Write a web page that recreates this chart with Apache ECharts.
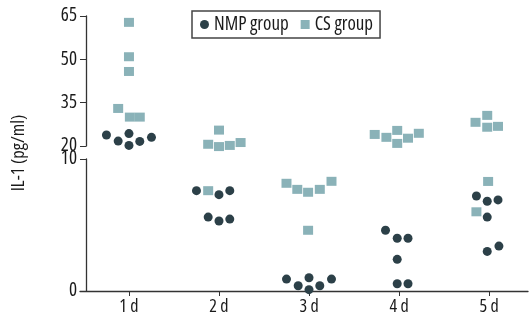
<!DOCTYPE html>
<html><head><meta charset="utf-8">
<script src="https://cdn.jsdelivr.net/npm/echarts@6/dist/echarts.min.js"></script>
<style>html,body{margin:0;padding:0;background:#fff}#c{width:531px;height:323px}</style>
</head><body><div id="c"></div>
<script>
const days = ['1 d', '2 d', '3 d', '4 d', '5 d'];
const nmpValues = [
  [23.8, 21.7, 24.3, 20.2, 21.6, 23.0],
  [7.6, 7.3, 7.6, 5.6, 5.3, 5.45],
  [0.9, 0.4, 1.0, 0.1, 0.4, 0.9],
  [4.6, 4.0, 4.0, 2.4, 0.55, 0.55],
  [7.2, 6.8, 6.9, 5.6, 3.0, 3.4]
];
const nmpOffsets = [
  [-0.25, -0.12, 0, 0, 0.12, 0.25],
  [-0.25, 0, 0.12, -0.12, 0, 0.12],
  [-0.25, -0.12, 0, 0, 0.12, 0.25],
  [-0.15, -0.02, 0.1, -0.02, -0.02, 0.1],
  [-0.14, -0.02, 0.1, -0.02, -0.02, 0.11]
];
const csValues = [
  [62.8, 50.9, 45.8, 33.0, 30.0, 30.0],
  [25.5, 20.6, 19.8, 20.2, 21.2, 7.6],
  [8.16, 7.7, 7.48, 7.7, 8.31, 4.6],
  [24.0, 23.0, 25.4, 20.9, 22.7, 24.4],
  [8.3, 6.0, 28.2, 30.6, 26.5, 26.8]
];
const csOffsets = [
  [0, 0, 0, -0.12, 0.01, 0.12],
  [0, -0.12, 0, 0.12, 0.24, -0.12],
  [-0.25, -0.13, -0.01, 0.12, 0.25, -0.01],
  [-0.27, -0.14, -0.02, -0.02, 0.1, 0.22],
  [-0.01, -0.14, -0.15, -0.02, -0.02, 0.1]
];
const breakAt = 15;

function build(values, offsets, upper) {
  const out = [];
  values.forEach((arr, i) => arr.forEach((v, j) => {
    if ((v >= breakAt) === upper) out.push([i + 1 + offsets[i][j], v]);
  }));
  return out;
}

const FONT = '"Open Sans", sans-serif';
const TXT = { fontFamily: FONT, fontStyle: 'normal', fontWeight: '500 condensed', color: '#1a1a1a' };
const DOT = '#2c4048', SQ = '#8ab2b8', AX = '#333';
const xMin = 0.456, xMax = 5.433;

const chart = echarts.init(document.getElementById('c'));
chart.setOption({
  animation: false,
  grid: [
    { left: 80, right: 3, top: 16, height: 130 },
    { left: 80, right: 3, top: 159, height: 132 }
  ],
  xAxis: [
    { type: 'value', gridIndex: 0, min: xMin, max: xMax, show: false },
    { type: 'value', gridIndex: 1, min: xMin, max: xMax,
      axisLine: { lineStyle: { color: AX, width: 1.3 } },
      axisTick: { show: true, length: 5, customValues: [1, 2, 3, 4, 5], lineStyle: { color: AX } },
      axisLabel: Object.assign({ customValues: [1, 2, 3, 4, 5], formatter: v => days[Math.round(v) - 1],
        fontSize: 18, margin: 7 }, TXT),
      splitLine: { show: false } }
  ],
  yAxis: [
    { type: 'value', gridIndex: 0, min: 20, max: 65, interval: 15, offset: -6,
      axisLine: { show: true, lineStyle: { color: AX, width: 1.3 } },
      axisTick: { show: true, length: 6, lineStyle: { color: AX } },
      axisLabel: Object.assign({ fontSize: 19, margin: 9 }, TXT),
      splitLine: { show: false } },
    { type: 'value', gridIndex: 1, min: 0, max: 10, interval: 10, offset: -6,
      axisLine: { show: true, lineStyle: { color: AX, width: 1.3 } },
      axisTick: { show: true, length: 6, lineStyle: { color: AX } },
      axisLabel: Object.assign({ fontSize: 19, margin: 9 }, TXT),
      splitLine: { show: false } }
  ],
  legend: {
    left: 192, top: 11,
    data: [{ name: 'NMP group', icon: 'circle' }, { name: 'CS group', icon: 'rect' }],
    itemWidth: 9, itemHeight: 9, itemGap: 12,
    borderColor: '#444', borderWidth: 1.5, padding: [4, 7, 4, 8],
    textStyle: Object.assign({ fontSize: 19 }, TXT)
  },
  graphic: [{
    type: 'text', rotation: Math.PI / 2,
    x: 19, y: 153,
    style: { text: 'IL-1 (pg/ml)', font: 'normal 500 condensed 18.5px "Open Sans"', fill: '#1a1a1a',
      textAlign: 'center', textVerticalAlign: 'middle' }
  }],
  series: [
    { name: 'CS group', type: 'scatter', xAxisIndex: 0, yAxisIndex: 0, clip: false,
      symbol: 'rect', symbolSize: [10, 9], itemStyle: { color: SQ, opacity: 1 }, data: build(csValues, csOffsets, true) },
    { name: 'CS group', type: 'scatter', xAxisIndex: 1, yAxisIndex: 1, clip: false,
      symbol: 'rect', symbolSize: [10, 9], itemStyle: { color: SQ, opacity: 1 }, data: build(csValues, csOffsets, false) },
    { name: 'NMP group', type: 'scatter', xAxisIndex: 0, yAxisIndex: 0, clip: false,
      symbol: 'circle', symbolSize: 9, itemStyle: { color: DOT, opacity: 1 }, data: build(nmpValues, nmpOffsets, true) },
    { name: 'NMP group', type: 'scatter', xAxisIndex: 1, yAxisIndex: 1, clip: false,
      symbol: 'circle', symbolSize: 9, itemStyle: { color: DOT, opacity: 1 }, data: build(nmpValues, nmpOffsets, false) }
  ]
});
</script></body></html>
